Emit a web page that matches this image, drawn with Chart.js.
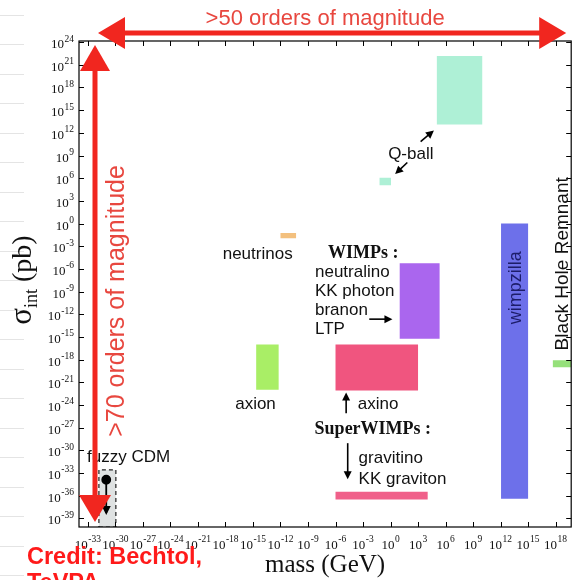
<!DOCTYPE html>
<html>
<head>
<meta charset="utf-8">
<script src="https://cdn.jsdelivr.net/npm/chart.js@4/dist/chart.umd.min.js"></script>
<style>
  html, body { margin: 0; padding: 0; background: #fff; }
  #wrap { width: 577px; height: 580px; position: relative; }
</style>
</head>
<body>
<div id="wrap"><canvas id="c"></canvas></div>
<script>
// Dark-matter candidate regions, as log10 of mass (GeV) and of sigma_int (pb)
const candidates = ['Q-ball', 'Q-ball (light)', 'neutrinos', 'WIMPs', 'axino', 'axion',
                    'gravitino / KK graviton', 'wimpzilla', 'Black Hole Remnant', 'fuzzy CDM'];
const massLo  = [5.05, -1.2, -12.0, 1.0, -6.0, -14.65, -6.0, 12.05, 17.7, -31.8];
const massHi  = [10.0, 0.05, -10.3, 5.35, 3.0, -12.2, 4.05, 15.0, 19.7, -29.95];
const sigmaLo = [13.1, 5.05, -1.95, -15.25, -22.1, -22.0, -36.5, -36.4, -19.0, -40.15];
const sigmaHi = [22.15, 6.05, -1.25, -5.25, -16.0, -16.0, -35.5, 0.0, -18.1, -32.6];
const fills   = ['#aef0d6', '#aef0d6', '#f3c07e', '#aa66ee', '#f0557f', '#a9ee66',
                 '#f0608a', '#6d70ea', '#95e07a', '#dfe2e2'];

// fuzzy CDM marker: point and the tip of its downward arrow
const fuzzyMass = [-31.0, -31.0];
const fuzzySigma = [-33.9, -38.3];

// Axis ranges (log10) and tick exponents
const xRange = [-33.97, 19.7];
const yRange = [-40.15, 24.15];
const xTickExps = [-33, -30, -27, -24, -21, -18, -15, -12, -9, -6, -3, 0, 3, 6, 9, 12, 15, 18];
const yTickExps = [-39, -36, -33, -30, -27, -24, -21, -18, -15, -12, -9, -6, -3, 0, 3, 6, 9, 12, 15, 18, 21, 24];

// Text labels placed in log10 data space
const labels = [
  { t: 'Q-ball',      x: -0.26,  y: 8.56,   font: '17px "Liberation Sans"' },
  { t: 'neutrinos',   x: -18.3,  y: -4.74,  font: '17px "Liberation Sans"' },
  { t: 'WIMPs :',     x: -6.83,  y: -4.58,  font: 'bold 18px "Liberation Serif"' },
  { t: 'neutralino',  x: -8.24,  y: -7.12,  font: '17px "Liberation Sans"' },
  { t: 'KK photon',   x: -8.24,  y: -9.63,  font: '17px "Liberation Sans"' },
  { t: 'branon',      x: -8.24,  y: -12.15, font: '17px "Liberation Sans"' },
  { t: 'LTP',         x: -8.24,  y: -14.66, font: '17px "Liberation Sans"' },
  { t: 'axion',       x: -16.94, y: -24.56, font: '17px "Liberation Sans"' },
  { t: 'axino',       x: -3.58,  y: -24.56, font: '17px "Liberation Sans"' },
  { t: 'SuperWIMPs :', x: -8.28, y: -27.83, font: 'bold 18px "Liberation Serif"' },
  { t: 'gravitino',   x: -3.48,  y: -31.71, font: '17px "Liberation Sans"' },
  { t: 'KK graviton', x: -3.48,  y: -34.45, font: '17px "Liberation Sans"' },
  { t: 'fuzzy CDM',   x: -33.09, y: -31.5,  font: '17px "Liberation Sans"' }
];
const vLabels = [
  { t: 'wimpzilla',          x: 13.66, y: -8.51, font: '18px "Liberation Sans"', color: '#1d1d6a' },
  { t: 'Black Hole Remnant', x: 18.78, y: -5.33, font: '19px "Liberation Sans"', color: '#111' }
];
// Black pointer arrows: [fromMass, fromSigma, toMass, toSigma]
const pointers = [
  [3.28, 10.85, 4.73, 12.31],
  [1.83, 8.07, 0.5, 6.54],
  [-2.32, -12.65, 0.21, -12.65],
  [-4.84, -25.09, -4.84, -22.37],
  [-4.67, -29.06, -4.67, -33.83]
];

function boxData(i) {
  const a = 10 ** massLo[i], b = 10 ** massHi[i], lo = 10 ** sigmaLo[i], hi = 10 ** sigmaHi[i];
  return [{x: a, y: lo}, {x: b, y: lo}, {x: b, y: hi}, {x: a, y: hi}, {x: a, y: lo}];
}

const datasets = candidates.map((name, i) => {
  const fuzzy = name === 'fuzzy CDM';
  return {
    label: name,
    data: boxData(i),
    backgroundColor: fills[i],
    borderColor: fuzzy ? '#222' : fills[i],
    borderWidth: fuzzy ? 1.2 : 0,
    borderDash: fuzzy ? [4, 3] : [],
    fill: 'shape',
    pointRadius: 0,
    tension: 0,
    order: 1
  };
});
datasets.push({
  label: 'fuzzy CDM marker',
  data: fuzzyMass.map((m, i) => ({ x: 10 ** m, y: 10 ** fuzzySigma[i] })),
  borderColor: '#000',
  borderWidth: 1.8,
  pointRadius: [4, 0],
  pointBackgroundColor: '#000',
  pointBorderColor: '#000',
  fill: false,
  order: 0
});

function arrowHead(ctx, x0, y0, x1, y1, len, half) {
  const ang = Math.atan2(y1 - y0, x1 - x0);
  ctx.beginPath();
  ctx.moveTo(x1, y1);
  ctx.lineTo(x1 - len * Math.cos(ang) + half * Math.sin(ang), y1 - len * Math.sin(ang) - half * Math.cos(ang));
  ctx.lineTo(x1 - len * Math.cos(ang) - half * Math.sin(ang), y1 - len * Math.sin(ang) + half * Math.cos(ang));
  ctx.closePath();
  ctx.fill();
}

function drawPow(ctx, e, x, y, align) {
  const base = '10', ex = String(e);
  ctx.font = '13px "Liberation Serif"';
  const wb = ctx.measureText(base).width;
  ctx.font = '9.5px "Liberation Serif"';
  const we = ctx.measureText(ex).width;
  const w = wb + we + 0.5;
  const x0 = align === 'right' ? x - w : x - w / 2;
  ctx.textAlign = 'left';
  ctx.textBaseline = 'alphabetic';
  ctx.font = '13px "Liberation Serif"';
  ctx.fillText(base, x0, y);
  ctx.font = '9.5px "Liberation Serif"';
  ctx.fillText(ex, x0 + wb + 0.5, y - 6.5);
}

const decor = {
  id: 'decor',
  beforeDraw(chart) {
    const ctx = chart.ctx;
    ctx.save();
    ctx.strokeStyle = '#e4e4e4';
    ctx.lineWidth = 1;
    for (let y = 14.5; y < 580; y += 29.5) {
      ctx.beginPath(); ctx.moveTo(0, Math.round(y) + 0.5); ctx.lineTo(24, Math.round(y) + 0.5); ctx.stroke();
    }
    ctx.restore();
  },
  afterDraw(chart) {
    const ctx = chart.ctx, ca = chart.chartArea;
    const xs = chart.scales.x, ys = chart.scales.y;
    const px = e => xs.getPixelForValue(10 ** e);
    const py = e => ys.getPixelForValue(10 ** e);
    ctx.save();

    // frame and inward ticks
    ctx.strokeStyle = '#000';
    ctx.lineWidth = 1.2;
    ctx.strokeRect(ca.left, ca.top, ca.right - ca.left, ca.bottom - ca.top);
    ctx.lineWidth = 1;
    ctx.beginPath();
    xTickExps.forEach(e => {
      const x = Math.round(px(e)) + 0.5;
      ctx.moveTo(x, ca.bottom); ctx.lineTo(x, ca.bottom - 5);
      ctx.moveTo(x, ca.top); ctx.lineTo(x, ca.top + 5);
    });
    yTickExps.forEach(e => {
      const y = Math.round(py(e)) + 0.5;
      ctx.moveTo(ca.left, y); ctx.lineTo(ca.left + 5, y);
      ctx.moveTo(ca.right, y); ctx.lineTo(ca.right - 5, y);
    });
    ctx.stroke();

    // tick labels
    ctx.fillStyle = '#111';
    xTickExps.forEach(e => drawPow(ctx, e, px(e), ca.bottom + 21.5, 'center'));
    yTickExps.forEach(e => drawPow(ctx, e, ca.left - 5, py(e) + 6, 'right'));

    // axis titles
    ctx.fillStyle = '#111';
    ctx.font = '25px "Liberation Serif"';
    ctx.textAlign = 'center';
    ctx.textBaseline = 'alphabetic';
    ctx.fillText('mass (GeV)', (ca.left + ca.right) / 2, ca.bottom + 45);

    ctx.save();
    ctx.translate(31, 280);
    ctx.rotate(-Math.PI / 2);
    ctx.textAlign = 'left';
    ctx.font = '31px "Liberation Serif"';
    const wS = ctx.measureText('σ').width;
    ctx.font = '18px "Liberation Serif"';
    const wI = ctx.measureText('int').width;
    ctx.font = '28px "Liberation Serif"';
    const wP = ctx.measureText(' (pb)').width;
    let x0 = -(wS + wI + wP) / 2;
    ctx.font = '31px "Liberation Serif"';
    ctx.fillText('σ', x0, 0);
    ctx.font = '18px "Liberation Serif"';
    ctx.fillText('int', x0 + wS, 6);
    ctx.font = '28px "Liberation Serif"';
    ctx.fillText(' (pb)', x0 + wS + wI, 0);
    ctx.restore();

    // candidate labels
    ctx.fillStyle = '#111';
    ctx.textAlign = 'left';
    ctx.textBaseline = 'alphabetic';
    labels.forEach(l => { ctx.font = l.font; ctx.fillText(l.t, px(l.x), py(l.y)); });
    vLabels.forEach(l => {
      ctx.save();
      ctx.translate(px(l.x), py(l.y));
      ctx.rotate(-Math.PI / 2);
      ctx.font = l.font;
      ctx.fillStyle = l.color;
      ctx.textAlign = 'center';
      ctx.textBaseline = 'middle';
      ctx.fillText(l.t, 0, 0);
      ctx.restore();
    });

    // pointer arrows
    ctx.strokeStyle = '#000';
    ctx.fillStyle = '#000';
    ctx.lineWidth = 1.6;
    pointers.forEach(p => {
      const x0 = px(p[0]), y0 = py(p[1]), x1 = px(p[2]), y1 = py(p[3]);
      const ang = Math.atan2(y1 - y0, x1 - x0);
      ctx.beginPath(); ctx.moveTo(x0, y0); ctx.lineTo(x1 - 5 * Math.cos(ang), y1 - 5 * Math.sin(ang)); ctx.stroke();
      arrowHead(ctx, x0, y0, x1, y1, 8, 4);
    });
    arrowHead(ctx, px(fuzzyMass[0]), py(fuzzySigma[0]), px(fuzzyMass[1]), py(fuzzySigma[1]) + 2, 9, 4.5);

    // red range arrows
    const red = '#f1261f';
    ctx.strokeStyle = red;
    ctx.fillStyle = red;
    ctx.lineWidth = 5;
    const hy = ca.top - 8, hl = ca.left + 19, hr = ca.right - 5;
    ctx.beginPath(); ctx.moveTo(hl + 20, hy); ctx.lineTo(hr - 20, hy); ctx.stroke();
    arrowHead(ctx, hr, hy, hl, hy, 27, 16);
    arrowHead(ctx, hl, hy, hr, hy, 27, 16);
    const vx = ca.left + 16, vt = ca.top + 4, vb = ca.bottom - 5;
    ctx.beginPath(); ctx.moveTo(vx, vt + 20); ctx.lineTo(vx, vb - 20); ctx.stroke();
    arrowHead(ctx, vx, vb, vx, vt, 26, 15);
    arrowHead(ctx, vx, vt, vx, vb, 27, 16);

    ctx.fillStyle = '#e8473f';
    ctx.font = '22px "Liberation Sans"';
    ctx.textAlign = 'center';
    ctx.textBaseline = 'alphabetic';
    ctx.fillText('>50 orders of magnitude', (ca.left + ca.right) / 2, 25);
    ctx.save();
    ctx.translate(ca.left + 38, 301);
    ctx.rotate(-Math.PI / 2);
    ctx.font = '25px "Liberation Sans"';
    ctx.textBaseline = 'middle';
    ctx.fillText('>70 orders of magnitude', 0, 0);
    ctx.restore();

    ctx.fillStyle = '#ff1a1a';
    ctx.font = 'bold 23.5px "Liberation Sans"';
    ctx.textAlign = 'left';
    ctx.fillText('Credit: Bechtol,', 27, 564);
    ctx.fillText('TeVPA', 27, 590);
    ctx.restore();
  }
};

new Chart(document.getElementById('c'), {
  type: 'line',
  data: { datasets },
  options: {
    responsive: true,
    maintainAspectRatio: false,
    animation: false,
    layout: { padding: { left: 79, right: 4, top: 41, bottom: 53 } },
    plugins: { legend: { display: false }, tooltip: { enabled: false } },
    scales: {
      x: {
        type: 'logarithmic', display: false,
        min: 10 ** xRange[0], max: 10 ** xRange[1]
      },
      y: {
        type: 'logarithmic', display: false,
        min: 10 ** yRange[0], max: 10 ** yRange[1]
      }
    }
  },
  plugins: [decor]
});
</script>
</body>
</html>
